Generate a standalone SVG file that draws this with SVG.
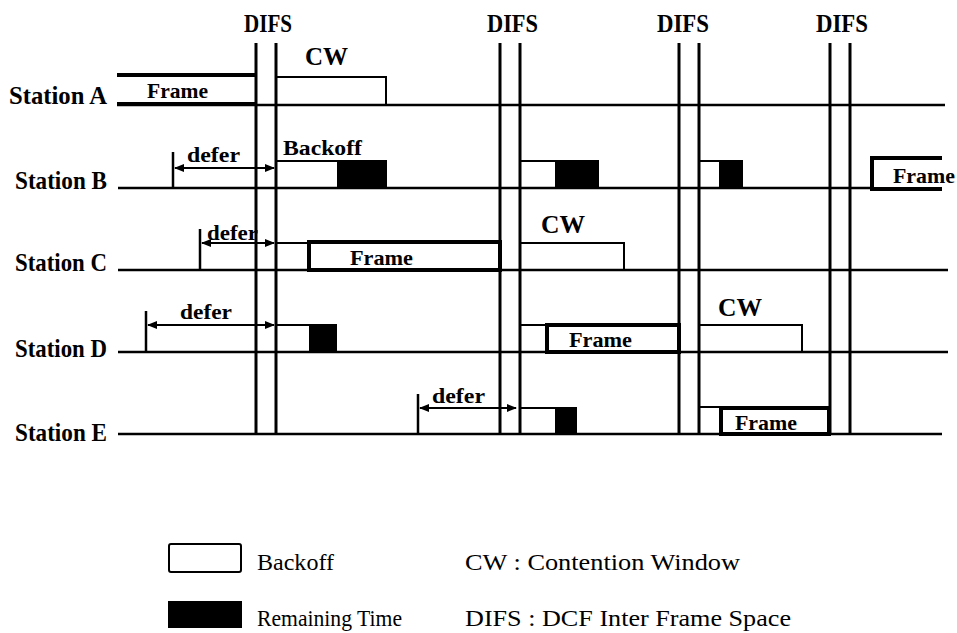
<svg xmlns="http://www.w3.org/2000/svg" width="957" height="633" viewBox="0 0 957 633">
<style>
.t{font-family:"Liberation Serif","Times New Roman",serif;font-weight:bold;font-size:25px;fill:#000}
.f{font-family:"Liberation Serif","Times New Roman",serif;font-weight:bold;font-size:22px;fill:#000}
.d{font-family:"Liberation Serif","Times New Roman",serif;font-weight:bold;font-size:22px;fill:#000}
.l{font-family:"Liberation Serif","Times New Roman",serif;font-size:23px;fill:#000}
.base{stroke:#000;stroke-width:2.5;fill:none}
.difs{stroke:#000;stroke-width:3;fill:none}
.bo{stroke:#000;stroke-width:2;fill:none}
.fr{stroke:#000;stroke-width:4;fill:none}
.rem{fill:#000;stroke:none}
.arr{stroke:#000;stroke-width:2;fill:none;marker-start:url(#ah);marker-end:url(#ah)}
.tick{stroke:#000;stroke-width:2.5}
</style>
<defs>
<marker id="ah" viewBox="0 0 10 10" refX="9" refY="5" markerWidth="5" markerHeight="5" orient="auto-start-reverse" markerUnits="strokeWidth">
<path d="M0,1 L10,5 L0,9 z" fill="#000"/>
</marker>
</defs>
<rect width="957" height="633" fill="#fff"/>

<g id="difs-lines">
<line class="difs" x1="256" y1="43" x2="256" y2="435"/>
<line class="difs" x1="276" y1="43" x2="276" y2="435"/>
<line class="difs" x1="500" y1="43" x2="500" y2="435"/>
<line class="difs" x1="520" y1="43" x2="520" y2="435"/>
<line class="difs" x1="679" y1="43" x2="679" y2="435"/>
<line class="difs" x1="699" y1="43" x2="699" y2="435"/>
<line class="difs" x1="830" y1="43" x2="830" y2="435"/>
<line class="difs" x1="850" y1="43" x2="850" y2="435"/>
<text class="t" x="244" y="32" textLength="48" lengthAdjust="spacingAndGlyphs">DIFS</text>
<text class="t" x="487" y="32" textLength="51" lengthAdjust="spacingAndGlyphs">DIFS</text>
<text class="t" x="657" y="32" textLength="52" lengthAdjust="spacingAndGlyphs">DIFS</text>
<text class="t" x="816" y="32" textLength="52" lengthAdjust="spacingAndGlyphs">DIFS</text>
</g>

<g id="station-a">
<text class="t" x="9" y="104" textLength="98" lengthAdjust="spacingAndGlyphs">Station  A</text>
<line class="base" x1="117" y1="105" x2="945" y2="105"/>
<line class="fr" x1="117" y1="75" x2="256" y2="75"/>
<line class="fr" x1="117" y1="104" x2="256" y2="104"/>
<text class="f" x="147" y="98" textLength="61" lengthAdjust="spacingAndGlyphs">Frame</text>
<polyline class="bo" points="276,77 386,77 386,105"/>
<text class="t" x="305" y="65" textLength="43" lengthAdjust="spacingAndGlyphs">CW</text>
</g>

<g id="station-b">
<text class="t" x="15" y="189" textLength="92" lengthAdjust="spacingAndGlyphs">Station B</text>
<line class="base" x1="118" y1="188" x2="872" y2="188"/>
<polyline class="bo" points="276,161 386,161 386,188"/>
<rect class="rem" x="337" y="161" width="49" height="27"/>
<text class="d" x="283" y="155" textLength="79" lengthAdjust="spacingAndGlyphs">Backoff</text>
<polyline class="bo" points="520,161 598,161 598,188"/>
<rect class="rem" x="555" y="161" width="43" height="27"/>
<polyline class="bo" points="699,161 742,161 742,188"/>
<rect class="rem" x="719" y="161" width="23" height="27"/>
<polyline class="fr" points="942,158 872,158 872,189 942,189"/>
<text class="f" x="893" y="183" textLength="62" lengthAdjust="spacingAndGlyphs">Frame</text>
</g>

<g id="station-c">
<text class="t" x="15" y="271" textLength="92" lengthAdjust="spacingAndGlyphs">Station C</text>
<line class="base" x1="118" y1="270" x2="948" y2="270"/>
<polyline class="bo" points="276,243 309,243"/>
<rect class="fr" x="309" y="242" width="191" height="28"/>
<text class="f" x="350" y="265" textLength="63" lengthAdjust="spacingAndGlyphs">Frame</text>
<polyline class="bo" points="520,243 624,243 624,270"/>
<text class="t" x="541" y="233" textLength="44" lengthAdjust="spacingAndGlyphs">CW</text>
</g>

<g id="station-d">
<text class="t" x="15" y="357" textLength="92" lengthAdjust="spacingAndGlyphs">Station D</text>
<line class="base" x1="118" y1="352" x2="948" y2="352"/>
<polyline class="bo" points="276,325 337,325"/>
<rect class="rem" x="309" y="325" width="28" height="27"/>
<polyline class="bo" points="520,325 547,325"/>
<rect class="fr" x="547" y="325" width="132" height="27"/>
<text class="f" x="569" y="347" textLength="63" lengthAdjust="spacingAndGlyphs">Frame</text>
<polyline class="bo" points="699,325 802,325 802,352"/>
<text class="t" x="718" y="316" textLength="44" lengthAdjust="spacingAndGlyphs">CW</text>
</g>

<g id="station-e">
<text class="t" x="15" y="441" textLength="92" lengthAdjust="spacingAndGlyphs">Station E</text>
<line class="base" x1="118" y1="434" x2="942" y2="434"/>
<polyline class="bo" points="520,408 577,408"/>
<rect class="rem" x="555" y="408" width="22" height="26"/>
<polyline class="bo" points="699,407 721,407"/>
<rect class="fr" x="721" y="408" width="108" height="26"/>
<text class="f" x="735" y="430" textLength="62" lengthAdjust="spacingAndGlyphs">Frame</text>
</g>

<g id="connectors">
<line class="tick" x1="173" y1="152" x2="173" y2="188"/>
<line class="arr" x1="175" y1="168" x2="274" y2="168"/>
<text class="d" x="187" y="162" textLength="53" lengthAdjust="spacingAndGlyphs">defer</text>

<line class="tick" x1="200" y1="229" x2="200" y2="270"/>
<line class="arr" x1="202" y1="243" x2="274" y2="243"/>
<text class="d" x="207" y="240" textLength="51" lengthAdjust="spacingAndGlyphs">defer</text>

<line class="tick" x1="146" y1="311" x2="146" y2="352"/>
<line class="arr" x1="148" y1="325" x2="274" y2="325"/>
<text class="d" x="180" y="319" textLength="52" lengthAdjust="spacingAndGlyphs">defer</text>

<line class="tick" x1="418" y1="394" x2="418" y2="434"/>
<line class="arr" x1="420" y1="408" x2="516" y2="408"/>
<text class="d" x="432" y="403" textLength="53" lengthAdjust="spacingAndGlyphs">defer</text>
</g>

<g id="legend">
<rect class="bo" x="169" y="544" width="72" height="28" rx="2"/>
<rect class="rem" x="168" y="601" width="74" height="27"/>
<text class="l" x="257" y="570" textLength="77" lengthAdjust="spacingAndGlyphs">Backoff</text>
<text class="l" x="257" y="626" textLength="145" lengthAdjust="spacingAndGlyphs">Remaining  Time</text>
<text class="l" x="465" y="570" textLength="275" lengthAdjust="spacingAndGlyphs">CW :  Contention Window</text>
<text class="l" x="465" y="626" textLength="326" lengthAdjust="spacingAndGlyphs">DIFS  :  DCF  Inter  Frame  Space</text>
</g>
</svg>
